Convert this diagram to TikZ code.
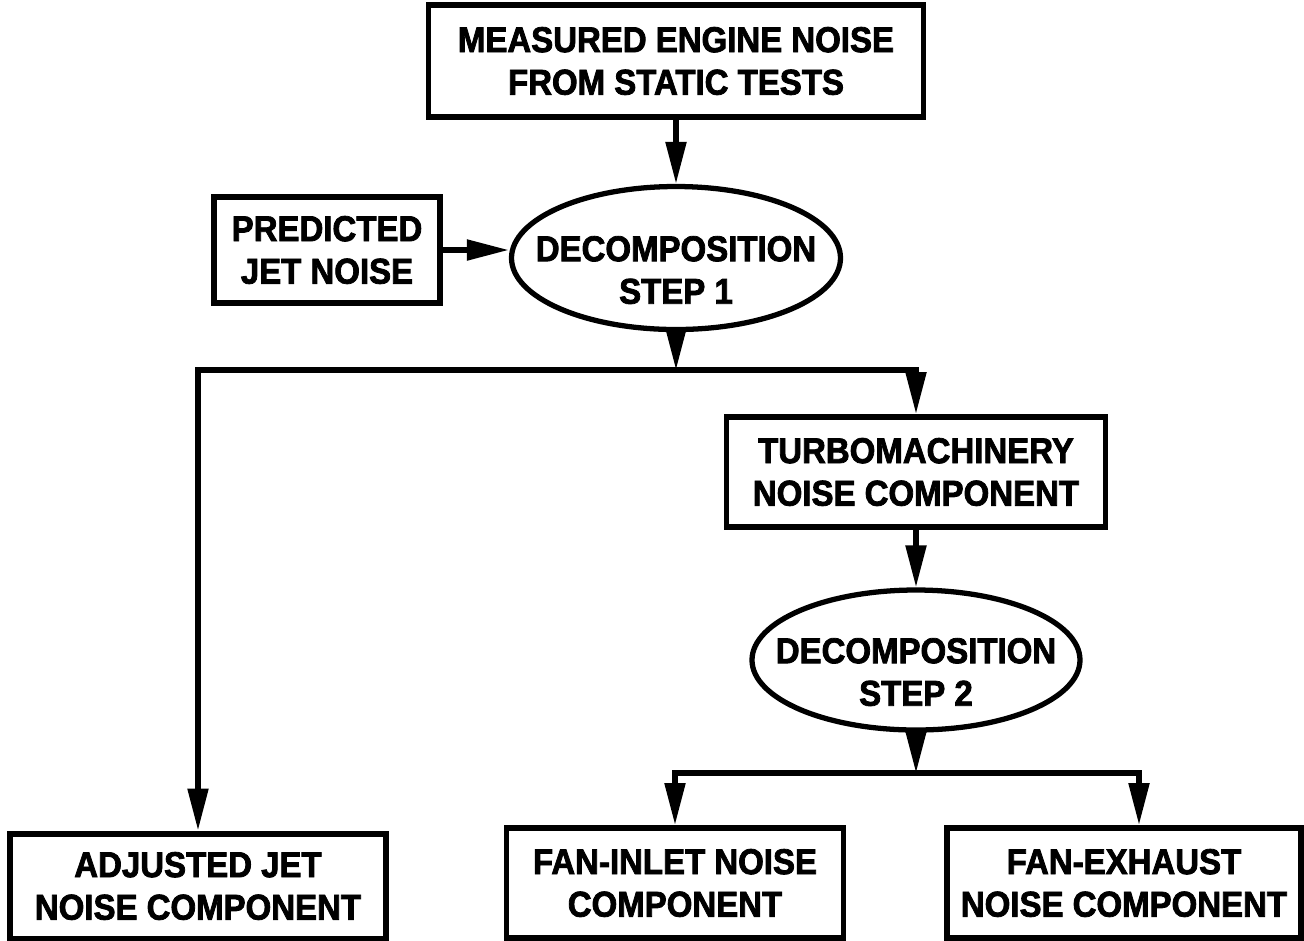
\documentclass[tikz,border=0pt]{standalone}
\usepackage{fontspec}
\newfontfamily\boxfont{Liberation Sans}[FakeStretch=0.92,BoldFeatures={FakeBold=2.2}]
\usetikzlibrary{shapes.geometric,arrows.meta}
\newcommand{\lowstrut}{\rule{0pt}{14pt}}
\begin{document}
\begin{tikzpicture}[
        box/.style={draw, line width=1.7pt, align=center, inner sep=0pt},
        oval/.style={draw, ellipse, line width=1.5pt, align=center, inner xsep=-2.5mm, inner ysep=-0.5mm},
        arr/.style={line width=1.5pt, -{Triangle[length=4.2mm,width=2mm]}},
        every node/.append style={font=\boxfont\bfseries\fontsize{10.2}{12.1}\selectfont}
    ]
                        \useasboundingbox (0,0) rectangle (13.04,-9.40);

                        \node[box, minimum width=4.95cm, minimum height=1.12cm] (meas) at (6.76,-0.61) {MEASURED ENGINE NOISE\\FROM STATIC TESTS};
                        \node[box, minimum width=2.26cm, minimum height=1.06cm] (pred) at (3.27,-2.50) {PREDICTED\\JET NOISE};
                        \node[oval, minimum width=3.29cm, minimum height=1.43cm] (dec1) at (6.76,-2.58) {\lowstrut DECOMPOSITION\\STEP 1};
                        \node[box, minimum width=3.79cm, minimum height=1.10cm] (turbo) at (9.16,-4.72) {TURBOMACHINERY\\NOISE COMPONENT};
                        \node[oval, minimum width=3.28cm, minimum height=1.40cm] (dec2) at (9.16,-6.60) {\lowstrut DECOMPOSITION\\STEP 2};
                        \node[box, minimum width=3.76cm, minimum height=1.05cm] (adj) at (1.98,-8.86) {ADJUSTED JET\\NOISE COMPONENT};
                        \node[box, minimum width=3.37cm, minimum height=1.10cm] (inlet) at (6.75,-8.83) {FAN-INLET NOISE\\COMPONENT};
                        \node[box, minimum width=3.54cm, minimum height=1.10cm] (exh) at (11.24,-8.83) {FAN-EXHAUST\\NOISE COMPONENT};

                        \coordinate (split1) at (6.76,-3.70);
                        \coordinate (split2) at (9.16,-7.73);

                        \draw[arr] (meas.south) -- (dec1.north);
                        \draw[arr] (pred.east) -- (pred.east -| dec1.west);
                        \draw[arr] (dec1.south) -- (split1);
                        \draw[arr] (split1) -| (adj.north);
                        \draw[arr] (split1) -| (turbo.north);
                        \draw[arr] (turbo.south) -- (dec2.north);
                        \draw[arr] (dec2.south) -- (split2);
                        \draw[arr] (split2) -| (inlet.north);
                        \draw[arr] (split2) -| ([xshift=1.5mm]exh.north);
                    \end{tikzpicture}
\end{document}
